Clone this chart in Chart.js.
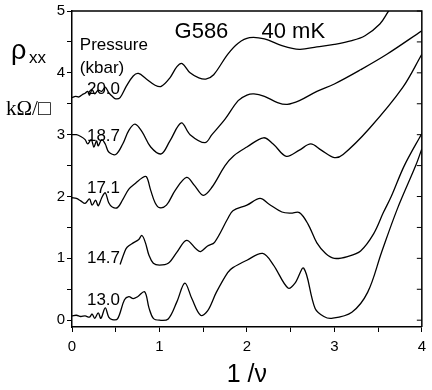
<!DOCTYPE html>
<html>
<head>
<meta charset="utf-8">
<script src="https://cdn.jsdelivr.net/npm/chart.js@4.4.1/dist/chart.umd.min.js"></script>
<style>
  html, body { margin: 0; padding: 0; background: #fff; }
  #wrap { width: 432px; height: 390px; }
</style>
</head>
<body>
<div id="wrap"><canvas id="myChart" width="432" height="390"></canvas></div>
<script>
// values (x = 1/nu, y = rho_xx in kOhm/sq)
const x200 = [0, 0.04, 0.08, 0.12, 0.15, 0.18, 0.2, 0.23, 0.26, 0.3, 0.34, 0.38, 0.42, 0.46, 0.5, 0.55, 0.62, 0.7, 0.76, 0.85, 0.95, 1.02, 1.12, 1.2, 1.26, 1.35, 1.45, 1.53, 1.62, 1.78, 1.9, 2.03, 2.2, 2.4, 2.6, 2.8, 3.0, 3.2, 3.35, 3.52, 3.62, 3.75];
const y200 = [3.6, 3.62, 3.61, 3.65, 3.67, 3.7, 3.64, 3.73, 3.66, 3.72, 3.7, 3.77, 3.68, 3.62, 3.58, 3.6, 3.78, 3.95, 3.99, 3.9, 3.8, 3.78, 3.92, 4.1, 4.15, 4.0, 3.92, 3.9, 3.97, 4.3, 4.48, 4.57, 4.55, 4.44, 4.38, 4.42, 4.46, 4.52, 4.6, 4.79, 5.0, 5.25];

const x187 = [0, 0.05, 0.1, 0.15, 0.18, 0.22, 0.25, 0.28, 0.3, 0.34, 0.38, 0.42, 0.5, 0.58, 0.65, 0.72, 0.8, 0.9, 1.02, 1.12, 1.25, 1.35, 1.52, 1.6, 1.75, 1.9, 2.0, 2.08, 2.2, 2.35, 2.46, 2.6, 2.8, 3.0, 3.3, 3.6, 4.0];
const y187 = [3.0, 3.0, 2.97, 2.92, 2.85, 2.92, 2.8, 2.9, 2.82, 2.92, 2.85, 2.72, 2.68, 2.85, 3.07, 3.17, 3.05, 2.8, 2.69, 2.9, 3.19, 3.0, 2.87, 3.0, 3.25, 3.55, 3.64, 3.66, 3.62, 3.52, 3.49, 3.55, 3.7, 3.82, 4.05, 4.3, 4.68];

const x171 = [0, 0.05, 0.1, 0.15, 0.2, 0.23, 0.27, 0.3, 0.34, 0.38, 0.42, 0.46, 0.52, 0.58, 0.65, 0.73, 0.8, 0.85, 0.9, 0.95, 1.0, 1.08, 1.18, 1.31, 1.4, 1.5, 1.6, 1.75, 1.85, 2.0, 2.19, 2.3, 2.45, 2.6, 2.73, 2.85, 3.0, 3.1, 3.4, 3.78, 4.0];
const y171 = [1.98, 1.97, 1.93, 1.89, 1.96, 1.86, 1.94, 1.85, 1.98, 2.06, 1.9, 1.83, 1.82, 1.95, 2.12, 2.22, 2.3, 2.32, 2.1, 1.9, 1.82, 1.86, 2.1, 2.31, 2.18, 2.02, 2.15, 2.5, 2.66, 2.8, 2.95, 2.85, 2.65, 2.75, 2.85, 2.75, 2.63, 2.68, 3.1, 3.76, 4.3];

const x147 = [0.55, 0.6, 0.63, 0.7, 0.76, 0.8, 0.84, 0.88, 0.93, 1.0, 1.1, 1.2, 1.31, 1.42, 1.47, 1.55, 1.63, 1.78, 1.84, 2.0, 2.15, 2.25, 2.4, 2.5, 2.6, 2.7, 2.8, 2.9, 3.0, 3.15, 3.3, 3.45, 3.56, 3.65, 3.8, 4.0];
const y147 = [0.9, 1.1, 1.18, 1.25, 1.3, 1.37, 1.25, 1.05, 0.92, 0.89, 0.92, 1.1, 1.29, 1.15, 1.11, 1.2, 1.26, 1.64, 1.77, 1.86, 1.97, 1.88, 1.75, 1.73, 1.74, 1.55, 1.25, 1.08, 1.0, 1.03, 1.12, 1.4, 1.74, 2.0, 2.5, 3.02];

const x130 = [0, 0.05, 0.1, 0.15, 0.2, 0.23, 0.26, 0.3, 0.33, 0.38, 0.42, 0.46, 0.52, 0.6, 0.65, 0.7, 0.75, 0.83, 0.88, 0.93, 1.0, 1.1, 1.2, 1.29, 1.37, 1.47, 1.55, 1.65, 1.78, 1.84, 2.0, 2.18, 2.3, 2.47, 2.55, 2.65, 2.78, 2.88, 2.97, 3.2, 3.38, 3.54, 3.72, 3.93, 4.0];
const y130 = [0.07, 0.08, 0.06, 0.07, 0.05, 0.1, 0.03, 0.12, 0.03, 0.2, 0.05, 0.01, 0.02, 0.33, 0.38, 0.35, 0.38, 0.46, 0.2, 0.03, 0.0, 0.02, 0.3, 0.6, 0.35, 0.08, 0.15, 0.45, 0.77, 0.85, 0.97, 1.08, 0.9, 0.52, 0.6, 0.84, 0.19, 0.06, 0.03, 0.13, 0.45, 1.1, 1.8, 2.5, 2.77];

const pressures = ['20.0', '18.7', '17.1', '14.7', '13.0'];
const pressureLabelY = [3.73, 2.97, 2.13, 1.0, 0.32];
const xTicks = [0, 1, 2, 3, 4];
const yTicks = [0, 1, 2, 3, 4, 5];

function pts(xs, ys) {
    return xs.map((x, i) => ({ x: x, y: ys[i] }));
}

const curves = [pts(x200, y200), pts(x187, y187), pts(x171, y171), pts(x147, y147), pts(x130, y130)];

const extras = {
    id: 'extras',
    afterDraw(chart) {
        const ctx = chart.ctx;
        const a = chart.chartArea;
        const xs = chart.scales.x;
        const ys = chart.scales.y;
        ctx.save();
        ctx.strokeStyle = '#000';
        ctx.lineWidth = 1.5;
        // top and right frame
        ctx.beginPath();
        ctx.moveTo(a.left, a.top);
        ctx.lineTo(a.right, a.top);
        ctx.lineTo(a.right, a.bottom);
        ctx.stroke();
        ctx.lineWidth = 1;
        ys.ticks.forEach(t => {
            const py = ys.getPixelForValue(t.value);
            ctx.beginPath();
            ctx.moveTo(a.right, py);
            ctx.lineTo(a.right - 5, py);
            ctx.stroke();
        });

        ctx.fillStyle = '#000';
        ctx.textBaseline = 'middle';
        ctx.font = '17px "Liberation Sans", Arial, sans-serif';
        ctx.textAlign = 'center';
        pressures.forEach((p, i) => {
            ctx.fillText(p, xs.getPixelForValue(0.36), ys.getPixelForValue(pressureLabelY[i]));
        });
        ctx.textAlign = 'left';
        ctx.fillText('Pressure', xs.getPixelForValue(0.09), ys.getPixelForValue(4.44));
        ctx.fillText('(kbar)', xs.getPixelForValue(0.09), ys.getPixelForValue(4.07));

        ctx.font = '22px "Liberation Sans", Arial, sans-serif';
        ctx.textAlign = 'center';
        ctx.fillText('G586', xs.getPixelForValue(1.48), ys.getPixelForValue(4.66));
        ctx.fillText('40 mK', xs.getPixelForValue(2.53), ys.getPixelForValue(4.66));

        // y axis title
        ctx.textAlign = 'left';
        ctx.textBaseline = 'alphabetic';
        ctx.font = '27px "Liberation Sans", Arial, sans-serif';
        ctx.fillText('\u03c1', 11, 59);
        ctx.font = '17px "Liberation Sans", Arial, sans-serif';
        ctx.fillText('xx', 29, 63);
        ctx.font = '21px "Liberation Serif", "Times New Roman", serif';
        ctx.fillText('k\u03a9/\u25a1', 6, 115);
        ctx.restore();
    }
};

const ctx = document.getElementById('myChart');

new Chart(ctx, {
    type: 'scatter',
    data: {
        datasets: curves.map((c, i) => ({
            label: pressures[i],
            data: c,
            showLine: true,
            borderColor: '#000',
            borderWidth: 1.3,
            pointRadius: 0,
            tension: 0.35
        }))
    },
    options: {
        responsive: false,
        animation: false,
        layout: { padding: { left: 0, right: 4, top: 10, bottom: 0 } },
        plugins: {
            legend: { display: false },
            tooltip: { enabled: false }
        },
        scales: {
            x: {
                type: 'linear',
                min: 0,
                max: 4,
                grid: { drawOnChartArea: false, drawTicks: true, tickLength: 5, color: '#000', tickWidth: 1 },
                border: { display: true, color: '#000', width: 1.5 },
                ticks: {
                    stepSize: 0.5,
                    autoSkip: false,
                    maxRotation: 0,
                    color: '#000',
                    padding: 6,
                    font: { family: '"Liberation Sans", Arial, sans-serif', size: 15 },
                    callback: v => xTicks.includes(v) ? String(v) : ''
                },
                title: {
                    display: true,
                    text: '1 /\u03bd',
                    color: '#000',
                    font: { family: '"Liberation Sans", Arial, sans-serif', size: 25 },
                    padding: { top: 2, bottom: 0 }
                },
                afterFit: s => { s.height = 63; }
            },
            y: {
                min: -0.11,
                max: 5,
                grid: { drawOnChartArea: false, drawTicks: true, tickLength: 5, color: '#000', tickWidth: 1 },
                border: { display: true, color: '#000', width: 1.5 },
                ticks: {
                    stepSize: 0.5,
                    includeBounds: false,
                    autoSkip: false,
                    color: '#000',
                    padding: 2,
                    font: { family: '"Liberation Sans", Arial, sans-serif', size: 15 },
                    callback: v => yTicks.includes(v) ? String(v) : ''
                },
                afterFit: s => { s.width = 72; }
            }
        }
    },
    plugins: [extras]
});
</script>
</body>
</html>
